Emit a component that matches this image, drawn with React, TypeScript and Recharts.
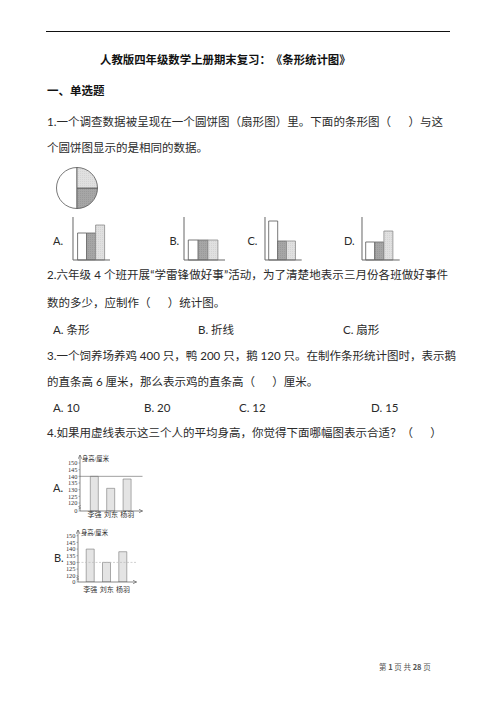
import React from 'react';
import { PieChart, Pie, Cell, BarChart, Bar, XAxis, YAxis, ReferenceLine } from 'recharts';

// ---------- data ----------
const pieCategories = ['white', 'dark', 'light'];
const pieValues = [50, 25, 25];
const categoryFills = ['#ffffff', 'url(#dotDark)', 'url(#dotLight)'];
const categoryStrokes = ['#555555', '#6a6a6a', '#8a8a8a'];

const optionLabels = ['A.', 'B.', 'C.', 'D.'];
const optionAValues = [27, 27, 35];
const optionBValues = [20, 20, 20];
const optionCValues = [39, 19, 19];
const optionDValues = [18, 18, 29];

const people = ['李强', '刘东', '杨羽'];
const heightsA = [140, 131, 138];
const heightsB = [140, 130, 138];
const heightTicks = [120, 125, 130, 135, 140, 145, 150];
const avgLineA = 140;
const avgLineB = 130;

const CJK = "'Lato', 'Noto Sans CJK SC', sans-serif";
const SERIF = "'Liberation Serif', 'Noto Sans CJK SC', serif";
const GAP = '\u3000\u2002';

type TProps = {
  x: number;
  y: number;
  size?: number;
  bold?: boolean;
  width?: number;
  color?: string;
  children: React.ReactNode;
  family?: string;
};

function T({ x, y, size = 11.5, bold, width, color = '#2a2a2a', children, family = CJK }: TProps) {
  return (
    <div
      style={{
        position: 'absolute',
        left: x,
        top: y - size / 2,
        fontSize: size,
        lineHeight: `${size}px`,
        fontWeight: bold ? 700 : 400,
        fontFamily: family,
        color,
        whiteSpace: 'pre',
        width: width,
        textAlign: width ? 'justify' : 'left',
        textAlignLast: width ? 'justify' : 'auto',
        textSpacingTrim: 'space-all',
      } as React.CSSProperties}
    >
      {children}
    </div>
  );
}

type TinyProps = {
  values: number[];
  left: number;
  top: number;
  plotW: number;
  padL: number;
  band: number;
};

function TinyBars({ values, left, top, plotW, padL, band }: TinyProps) {
  const data = pieCategories.map((c, i) => ({ name: c, v: values[i] }));
  const padR = plotW - padL - band * 3;
  return (
    <div style={{ position: 'absolute', left, top }}>
      <BarChart
        width={plotW + 1}
        height={44}
        data={data}
        margin={{ top: 0, right: 0, bottom: 0, left: 0 }}
        barCategoryGap={0}
      >
        <XAxis
          dataKey="name"
          height={1}
          tick={false}
          tickLine={false}
          axisLine={{ stroke: '#666', strokeWidth: 1 }}
          padding={{ left: padL, right: padR }}
        />
        <YAxis
          width={1}
          type="number"
          domain={[0, 43]}
          tick={false}
          tickLine={false}
          axisLine={{ stroke: '#666', strokeWidth: 1 }}
        />
        <Bar dataKey="v" isAnimationActive={false} strokeWidth={0.8}>
          {data.map((d, i) => (
            <Cell key={d.name} fill={categoryFills[i]} stroke={categoryStrokes[i]} />
          ))}
        </Bar>
      </BarChart>
    </div>
  );
}

type HeightProps = {
  values: number[];
  axisX: number;
  plotTop: number;
  plotH: number;
  plotW: number;
  domain: [number, number];
  padL: number;
  padR: number;
  line: number;
  lineColor: string;
  lineDash?: string;
  labelGap: number;
};

function HeightChart({ values, axisX, plotTop, plotH, plotW, domain, padL, padR, line, lineColor, lineDash, labelGap }: HeightProps) {
  const data = people.map((p, i) => ({ name: p, h: values[i] }));
  const yw = 30;
  const mt = 4;
  const ticks = [domain[0], ...heightTicks];
  const YTick = (props: any) => {
    const { x, y, payload } = props;
    const isZero = payload.value === domain[0];
    return (
      <g>
        <text x={x} y={y} dy="0.35em" textAnchor="end" fontSize={6.4} fill="#333" fontFamily={SERIF}>
          {isZero ? '0' : payload.value}
        </text>
        {isZero && (
          <path
            d={`M${x + 1},${y - 2} l2.2,-1 l-2.2,-1.3 l2.2,-1.3`}
            stroke="#666"
            strokeWidth={0.6}
            fill="none"
          />
        )}
      </g>
    );
  };
  return (
    <div style={{ position: 'absolute', left: axisX - yw, top: plotTop - mt }}>
      <BarChart
        width={yw + plotW + 5}
        height={mt + plotH + 16}
        data={data}
        margin={{ top: mt, right: 5, bottom: 0, left: 0 }}
        barCategoryGap={0}
        style={{ overflow: 'visible' }}
      >
        <XAxis
          dataKey="name"
          height={16}
          tickLine={false}
          tickSize={0}
          tickMargin={labelGap}
          tick={{ fontSize: 7, fill: '#333', fontFamily: SERIF }}
          axisLine={{ stroke: '#555', strokeWidth: 0.7, markerEnd: 'url(#arrowHead)' }}
          padding={{ left: padL, right: padR }}
          interval={0}
        />
        <YAxis
          width={yw}
          type="number"
          domain={domain}
          allowDataOverflow
          ticks={ticks}
          interval={0}
          tickSize={1.5}
          tickMargin={1}
          tickLine={{ stroke: '#666', strokeWidth: 0.5 }}
          tick={<YTick />}
          axisLine={{ stroke: '#555', strokeWidth: 0.7, markerStart: 'url(#arrowHeadStart)' }}
        />
        <ReferenceLine y={line} stroke={lineColor} strokeWidth={0.7} strokeDasharray={lineDash} />
        <Bar dataKey="h" barSize={8} fill="#e4e4e4" stroke="#777" strokeWidth={0.6} isAnimationActive={false} />
      </BarChart>
    </div>
  );
}

export default function App() {
  const pieData = pieCategories.map((c, i) => ({ name: c, value: pieValues[i] }));
  return (
    <div
      style={{
        position: 'absolute',
        left: 0,
        top: 0,
        width: 496,
        height: 702,
        background: '#fff',
        overflow: 'hidden',
      }}
    >
      <svg width={0} height={0} style={{ position: 'absolute' }}>
        <defs>
          <pattern id="dotDark" width="2" height="2" patternUnits="userSpaceOnUse">
            <rect width="2" height="2" fill="#a6a6a6" />
            <rect width="1" height="1" fill="#9a9a9a" />
          </pattern>
          <pattern id="dotLight" width="2" height="2" patternUnits="userSpaceOnUse">
            <rect width="2" height="2" fill="#e0e0e0" />
            <rect width="1" height="1" fill="#d4d4d4" />
          </pattern>
          <marker id="arrowHead" markerWidth="5" markerHeight="5" refX="4" refY="2" orient="auto" markerUnits="userSpaceOnUse">
            <path d="M0,0 L4,2 L0,4" fill="none" stroke="#555" strokeWidth="0.6" />
          </marker>
          <marker id="arrowHeadStart" markerWidth="5" markerHeight="5" refX="4" refY="2" orient="auto-start-reverse" markerUnits="userSpaceOnUse">
            <path d="M0,0 L4,2 L0,4" fill="none" stroke="#555" strokeWidth="0.6" />
          </marker>
        </defs>
      </svg>

      {/* header rule */}
      <div style={{ position: 'absolute', left: 46, top: 31, width: 404, height: 1, background: '#111' }} />

      <T x={100} y={60} bold size={11.4} color="#111">人教版四年级数学上册期末复习：《条形统计图》</T>
      <T x={47} y={91} bold size={11.5} color="#111">一、单选题</T>

      <T x={47} y={122} width={396}>{`1.一个调查数据被呈现在一个圆饼图（扇形图）里。下面的条形图（${GAP}）与这`}</T>
      <T x={47} y={148}>个圆饼图显示的是相同的数据。</T>

      <div style={{ position: 'absolute', left: 52, top: 162.5 }}>
        <PieChart width={50} height={50} margin={{ top: 0, right: 0, bottom: 0, left: 0 }}>
          <Pie
            data={pieData}
            dataKey="value"
            cx={25}
            cy={25}
            outerRadius={20.5}
            startAngle={90}
            endAngle={450}
            isAnimationActive={false}
            strokeWidth={0.8}
          >
            {pieData.map((d, i) => (
              <Cell key={d.name} fill={categoryFills[i]} stroke="#555" />
            ))}
          </Pie>
        </PieChart>
      </div>

      <T x={53} y={240} size={11} family="'Lato', sans-serif">{optionLabels[0]}</T>
      <T x={169.5} y={240} size={11} family="'Lato', sans-serif">{optionLabels[1]}</T>
      <T x={247.5} y={240} size={11} family="'Lato', sans-serif">{optionLabels[2]}</T>
      <T x={344} y={240} size={11} family="'Lato', sans-serif">{optionLabels[3]}</T>

      <TinyBars values={optionAValues} left={71.7} top={216.5} plotW={37.3} padL={4.6} band={9} />
      <TinyBars values={optionBValues} left={183} top={217} plotW={41} padL={4.3} band={9.8} />
      <TinyBars values={optionCValues} left={264} top={217} plotW={36.7} padL={3.7} band={8.9} />
      <TinyBars values={optionDValues} left={361.3} top={217} plotW={37.7} padL={3.7} band={9.1} />

      <T x={47} y={275} width={401}>2.六年级 4 个班开展“学雷锋做好事”活动，为了清楚地表示三月份各班做好事件</T>
      <T x={47} y={303}>{`数的多少，应制作（${GAP}）统计图。`}</T>
      <T x={53} y={330}>A. 条形</T>
      <T x={198} y={330}>B. 折线</T>
      <T x={343} y={330}>C. 扇形</T>

      <T x={47} y={356} width={401}>3.一个饲养场养鸡 400 只，鸭 200 只，鹅 120 只。在制作条形统计图时，表示鹅</T>
      <T x={47} y={382}>{`的直条高 6 厘米，那么表示鸡的直条高（${GAP}）厘米。`}</T>
      <T x={53} y={408}>A. 10</T>
      <T x={144} y={408}>B. 20</T>
      <T x={239} y={408}>C. 12</T>
      <T x={371} y={408}>D. 15</T>

      <T x={47} y={433}>{`4.如果用虚线表示这三个人的平均身高，你觉得下面哪幅图表示合适？（${GAP}）`}</T>

      <T x={53} y={487} size={11} family="'Lato', sans-serif">A.</T>
      <HeightChart
        values={heightsA}
        axisX={79.5}
        plotTop={455}
        plotH={56}
        plotW={62.5}
        domain={[114, 156]}
        padL={6.3}
        padR={7}
        line={avgLineA}
        lineColor="#777"
        labelGap={1}
      />
      <T x={82} y={459} size={6.3} family={SERIF} color="#222">身高/厘米</T>

      <T x={54} y={557.5} size={11} family="'Lato', sans-serif">B.</T>
      <HeightChart
        values={heightsB}
        axisX={78.2}
        plotTop={530}
        plotH={52}
        plotW={58.5}
        domain={[115.3, 154.3]}
        padL={4.2}
        padR={5.4}
        line={avgLineB}
        lineColor="#bbb"
        lineDash="2 1.5"
        labelGap={5}
      />
      <T x={81} y={533} size={6.3} family={SERIF} color="#222">身高/厘米</T>

      <div
        style={{
          position: 'absolute',
          left: 379,
          top: 663,
          fontSize: 7.5,
          lineHeight: '8px',
          fontFamily: "'Noto Sans CJK SC', sans-serif",
          color: '#555',
          whiteSpace: 'pre',
        }}
      >
        第 <b>1</b> 页 共 <b>28</b> 页
      </div>
    </div>
  );
}
